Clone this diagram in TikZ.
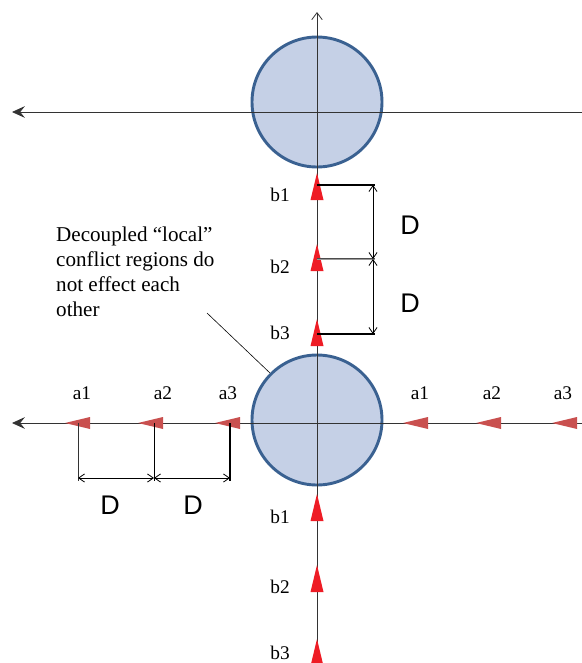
\documentclass[tikz,border=0pt]{standalone}
\usepackage{fontspec}
\setmainfont{Liberation Serif}
\newfontfamily\dimfont{Liberation Sans}
\usetikzlibrary{arrows.meta,calc}

\definecolor{zonefill}{HTML}{C5D0E6}
\definecolor{zoneline}{HTML}{3A6191}
\definecolor{btip}{HTML}{EE1C25}
\definecolor{atip}{HTML}{C9504F}

\tikzset{
  zone/.style={circle, draw=zoneline, line width=2.5pt, fill=zonefill, minimum size=3.9cm, inner sep=0pt},
  axis/.style={draw=black!80, line width=0.7pt},
  lbl/.style={font=\fontsize{16.5}{19}\selectfont, inner sep=0pt},
  dimtxt/.style={font=\dimfont\fontsize{23}{26}\selectfont, inner sep=0pt},
  dimline/.style={black, line width=1pt},
  dimarrow/.style={black, line width=0.7pt, {Straight Barb[length=5pt,width=7pt]}-{Straight Barb[length=5pt,width=7pt]}}
}

\begin{document}
\begin{tikzpicture}[x=0.03cm, y=-0.03cm]
  \useasboundingbox (0,0) rectangle (582,663);

  % Conflict regions
  \node[zone] (upper) at (317,102) {};
  \node[zone] (lower) at (317,420) {};

  % Axes
  \coordinate (upR) at (582,112);
  \coordinate (upL) at (12,112);
  \coordinate (loR) at (582,423);
  \coordinate (loL) at (12,423);
  \coordinate (vBot) at (317,663);
  \coordinate (vTop) at (317,12);
  \draw[axis, -{Stealth[length=11pt,width=10pt,inset=4pt]}] (upR) -- (upL);
  \draw[axis, -{Stealth[length=11pt,width=10pt,inset=4pt]}] (loR) -- (loL);
  \draw[axis, -{Straight Barb[length=6pt,width=9pt]}] (vBot) -- (vTop);

  % Vehicles b (moving up)
  \foreach \yb in {200,271,346,521,592,666}
    \fill[btip] (310.5,\yb) -- (317,\yb-27) -- (323.5,\yb) -- cycle;
  \foreach \yl [count=\i] in {195,267,333}
    \node[lbl] (bu\i) at (280,\yl) {b\i};
  \foreach \yl [count=\i] in {517,587,653}
    \node[lbl] (bl\i) at (280,\yl) {b\i};

  % Vehicles a (moving left)
  \foreach \xt in {65,138,215,403,476,552}
    \fill[atip] (\xt,423) -- (\xt+25,417) -- (\xt+25,429) -- cycle;
  \foreach \xl [count=\i] in {82,163,228}
    \node[lbl] (al\i) at (\xl,393) {a\i};
  \foreach \xl [count=\i] in {420,492,563}
    \node[lbl] (ar\i) at (\xl,393) {a\i};

  % Spacing D, vertical
  \coordinate (d1s) at (317,185);
  \coordinate (d1e) at (375,185);
  \coordinate (d2s) at (317,259);
  \coordinate (d2e) at (375,259);
  \coordinate (d3s) at (317,334);
  \coordinate (d3e) at (375,334);
  \draw[dimline] (d1s) -- (d1e);
  \draw[dimline, black!70, double=black!40, double distance=0.6pt, line width=0.5pt] (d2s) -- (d2e);
  \draw[dimline] (d3s) -- (d3e);
  \draw[dimarrow] ($(d1e)+(-2,0)$) -- ($(d2e)+(-2,0)$);
  \draw[dimarrow] ($(d2e)+(-2,0)$) -- ($(d3e)+(-2,0)$);
  \node[dimtxt] (dv1) at (410,225) {D};
  \node[dimtxt] (dv2) at (410,303) {D};

  % Spacing D, horizontal
  \coordinate (t1) at (78,423);
  \coordinate (t2) at (154,423);
  \coordinate (t3) at (230,423);
  \draw[black!80, line width=0.6pt] (t1) -- ++(0,58);
  \draw[black, line width=0.8pt] (t2) -- ++(0,58);
  \draw[black, line width=1.2pt] (t3) -- ++(0,58);
  \draw[dimarrow] ($(t1)+(0,55)$) -- ($(t2)+(0,55)$);
  \draw[dimarrow] ($(t2)+(0,55)$) -- ($(t3)+(0,55)$);
  \node[dimtxt] (dh1) at (110,505) {D};
  \node[dimtxt] (dh2) at (193,505) {D};

  % Annotation
  \node[anchor=north west, align=left, inner sep=0pt, font=\fontsize{18}{21.3}\selectfont] (note) at (56,227)
    {Decoupled “local”\\conflict regions do\\not effect each\\other};
  \coordinate (noteEnd) at (207,313);
  \draw[black, line width=0.5pt] (noteEnd) -- (lower.135);
\end{tikzpicture}
\end{document}
